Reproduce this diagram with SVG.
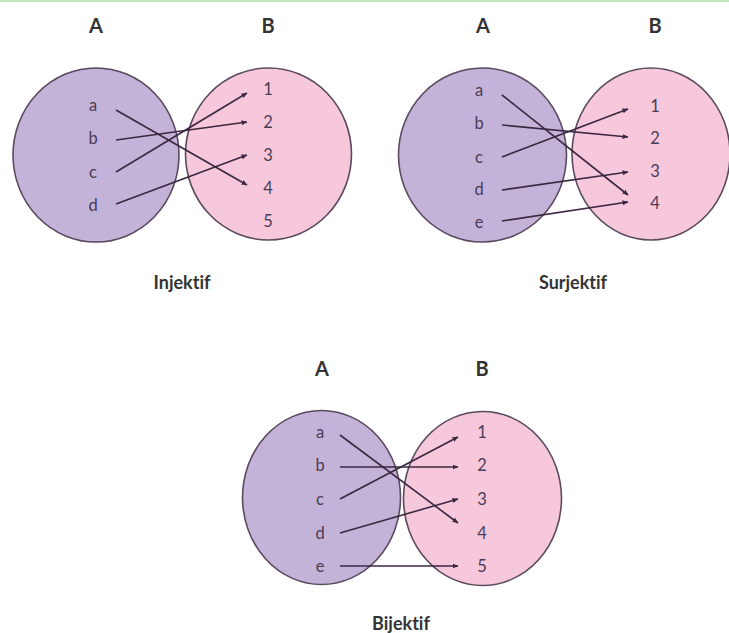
<svg xmlns="http://www.w3.org/2000/svg" width="729" height="633" viewBox="0 0 729 633">
<defs>
<marker id="ah" viewBox="0 0 6 6" refX="5.5" refY="3" markerWidth="6" markerHeight="6" markerUnits="userSpaceOnUse" orient="auto">
<path d="M0,0.5 L6,3 L0,5.5 Z" fill="#3b2840"/>
</marker>
<style>
.sa{fill:#c4b3d9;stroke:#5a4a5e;stroke-width:1.6}
.sb{fill:#f7c8dc;stroke:#5a4a5e;stroke-width:1.6}
text{font-variant-ligatures:none}
.hd{font-family:Lato,"Liberation Sans",sans-serif;font-weight:bold;font-size:20px;fill:#333;text-anchor:middle;dominant-baseline:central}
.el{font-family:Lato,"Liberation Sans",sans-serif;font-size:16.5px;fill:#4b3b55;text-anchor:middle;dominant-baseline:central}
.cap{font-family:Lato,"Liberation Sans",sans-serif;font-weight:bold;font-size:18px;fill:#333;text-anchor:middle;dominant-baseline:central}
.cn line{stroke:#3b2840;stroke-width:1.6;marker-end:url(#ah)}
</style>
</defs>
<rect width="729" height="633" fill="#fff"/>
<rect x="0" y="0" width="729" height="2" fill="#bfe8b8"/>

<g id="injektif">
<g id="inj-A"><ellipse class="sa" cx="96" cy="155" rx="83" ry="87"/>
<text class="hd" x="96" y="25">A</text>
<text class="el" x="93" y="105">a</text><text class="el" x="93" y="138">b</text><text class="el" x="93" y="172">c</text><text class="el" x="93" y="205">d</text></g>
<g id="inj-B"><ellipse class="sb" cx="268.5" cy="154" rx="83" ry="86"/>
<text class="hd" x="268" y="25">B</text>
<text class="el" x="268" y="89">1</text><text class="el" x="268" y="122">2</text><text class="el" x="268" y="155">3</text><text class="el" x="268" y="188">4</text><text class="el" x="268" y="221">5</text></g>
<text class="cap" x="182" y="282">Injektif</text>
</g>

<g id="surjektif">
<g id="sur-A"><ellipse class="sa" cx="482.5" cy="155" rx="84" ry="87"/>
<text class="hd" x="483" y="25">A</text>
<text class="el" x="479" y="90">a</text><text class="el" x="479" y="123">b</text><text class="el" x="479" y="157">c</text><text class="el" x="479" y="189">d</text><text class="el" x="479" y="222">e</text></g>
<g id="sur-B"><ellipse class="sb" cx="651" cy="154" rx="79" ry="86"/>
<text class="hd" x="655" y="25">B</text>
<text class="el" x="655" y="106">1</text><text class="el" x="655" y="138">2</text><text class="el" x="655" y="171">3</text><text class="el" x="655" y="203">4</text></g>
<text class="cap" x="573" y="282">Surjektif</text>
</g>

<g id="bijektif">
<g id="bij-A"><ellipse class="sa" cx="321.5" cy="497.5" rx="79" ry="87"/>
<text class="hd" x="322" y="368">A</text>
<text class="el" x="320" y="432">a</text><text class="el" x="320" y="465">b</text><text class="el" x="320" y="499">c</text><text class="el" x="320" y="533">d</text><text class="el" x="320" y="566">e</text></g>
<g id="bij-B"><ellipse class="sb" cx="482.5" cy="498.5" rx="79" ry="87"/>
<text class="hd" x="482" y="368">B</text>
<text class="el" x="482" y="432">1</text><text class="el" x="482" y="465">2</text><text class="el" x="482" y="499">3</text><text class="el" x="482" y="533">4</text><text class="el" x="482" y="566">5</text></g>
<text class="cap" x="401" y="623">Bijektif</text>
</g>

<g id="connectors" class="cn">
<line x1="116" y1="110" x2="247" y2="185"/>
<line x1="116" y1="140" x2="247" y2="122"/>
<line x1="116" y1="172" x2="247" y2="93"/>
<line x1="116" y1="204" x2="247" y2="155"/>

<line x1="502" y1="95" x2="628" y2="195"/>
<line x1="502" y1="125" x2="628" y2="137"/>
<line x1="502" y1="157" x2="628" y2="109"/>
<line x1="502" y1="190" x2="628" y2="172"/>
<line x1="502" y1="221" x2="628" y2="202"/>

<line x1="340" y1="435" x2="458" y2="523"/>
<line x1="340" y1="467" x2="458" y2="467"/>
<line x1="340" y1="499" x2="458" y2="437"/>
<line x1="340" y1="533" x2="458" y2="499"/>
<line x1="340" y1="566" x2="458" y2="566"/>
</g>
</svg>
